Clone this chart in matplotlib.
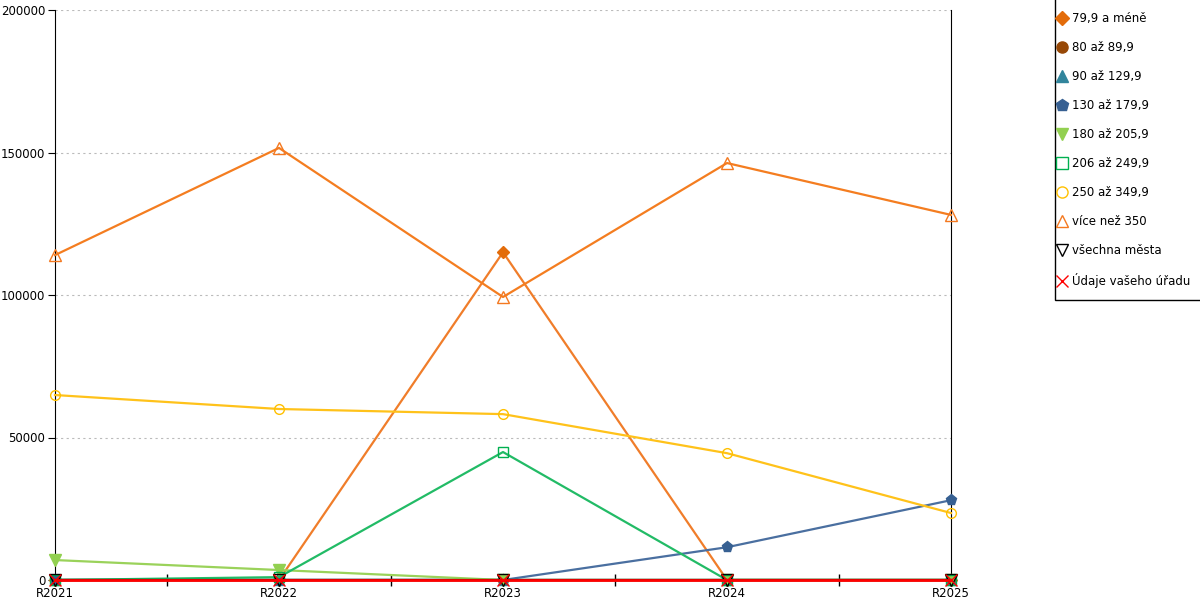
import matplotlib.pyplot as plt
from matplotlib.lines import Line2D
from matplotlib.patches import Rectangle

years = ['R2021', 'R2022', 'R2023', 'R2024', 'R2025']
names = ['79,9 a méně', '80 až 89,9', '90 až 129,9', '130 až 179,9', '180 až 205,9',
         '206 až 249,9', '250 až 349,9', 'více než 350', 'všechna města', 'Údaje vašeho úřadu']

s_79 = [0, 0, 115000, 0, 0]
s_80 = [0, 0, 0, 0, 0]
s_90 = [0, 0, 0, 0, 0]
s_130 = [0, 0, 0, 11500, 28000]
s_180 = [7000, 3500, 0, 0, 0]
s_206 = [0, 1000, 44900, 0, 0]
s_250 = [64900, 60000, 58200, 44500, 23500]
s_350 = [114000, 151600, 99300, 146300, 128100]
s_all = [0, 0, 0, 0, 0]
s_office = [0, 0, 0, 0, 0]

series = [s_79, s_80, s_90, s_130, s_180, s_206, s_250, s_350, s_all, s_office]
line_colors = ['#f07d2a', '#974806', '#31859c', '#4a6fa0', '#9ad25a', '#22bb66',
               '#ffc21a', '#f47d20', '#000000', '#ff0000']
mark_colors = ['#e36c0a', '#974806', '#31859c', '#376092', '#92d050', '#00b050',
               '#ffc000', '#f47920', '#000000', '#ff0000']
markers = ['D', 'o', '^', 'p', 'v', 's', 'o', '^', 'v', 'x']
filled = [True, True, True, True, True, False, False, False, False, True]
sizes = [6, 7, 7, 8, 8, 7, 7, 8, 8, 8]

fig = plt.figure(figsize=(12, 6), dpi=100)
ax = fig.add_axes([55 / 1200, 20 / 600, 896 / 1200, 570 / 600])

x = list(range(len(years)))
for i, vals in enumerate(series):
    fc = mark_colors[i] if filled[i] else 'none'
    ax.plot(x, vals, color=line_colors[i], lw=1.6 if i != 9 else 2,
            marker=markers[i], markersize=sizes[i], markerfacecolor=fc,
            markeredgecolor=mark_colors[i], markeredgewidth=1, zorder=3 + i * 0.1,
            clip_on=False)

ax.set_xlim(0, 4)
ax.set_ylim(0, 200000)
ax.set_yticks([0, 50000, 100000, 150000, 200000])
ax.set_xticks(x)
ax.set_xticklabels(years)
ax.set_xticks([0.5, 1.5, 2.5, 3.5], minor=True)
ax.tick_params(axis='x', which='major', length=0, pad=5, labelsize=8.5)
ax.tick_params(axis='x', which='minor', length=8, direction='inout', width=1)
ax.tick_params(axis='y', length=5, direction='out', labelsize=8.5, pad=2)
ax.grid(axis='y', color='#bbbbbb', linestyle=(0, (2, 3)), lw=0.8)
ax.set_axisbelow(True)
for s in ['top', 'bottom']:
    ax.spines[s].set_visible(False)
ax.spines['left'].set_color('black')
ax.spines['right'].set_color('black')

# legend box (top edge runs off the figure like in the original)
fig.patches.append(Rectangle((1055 / 1200, 0.5), 1, 0.6, transform=fig.transFigure,
                             facecolor='white', edgecolor='black', lw=1, zorder=0))

handles = []
for i in range(len(names)):
    fc = mark_colors[i] if filled[i] else 'none'
    handles.append(Line2D([], [], linestyle='none', marker=markers[i], markersize=sizes[i] + 1,
                          markerfacecolor=fc, markeredgecolor=mark_colors[i], label=names[i]))
fig.legend(handles=handles, loc='upper left', bbox_to_anchor=(1057 / 1200, 1 - 12 / 600),
           fontsize=8.5, frameon=False, labelspacing=1.36, handlelength=0.8,
           handletextpad=0.5, borderpad=0, borderaxespad=0)

fig.savefig('out.png', dpi=100)
